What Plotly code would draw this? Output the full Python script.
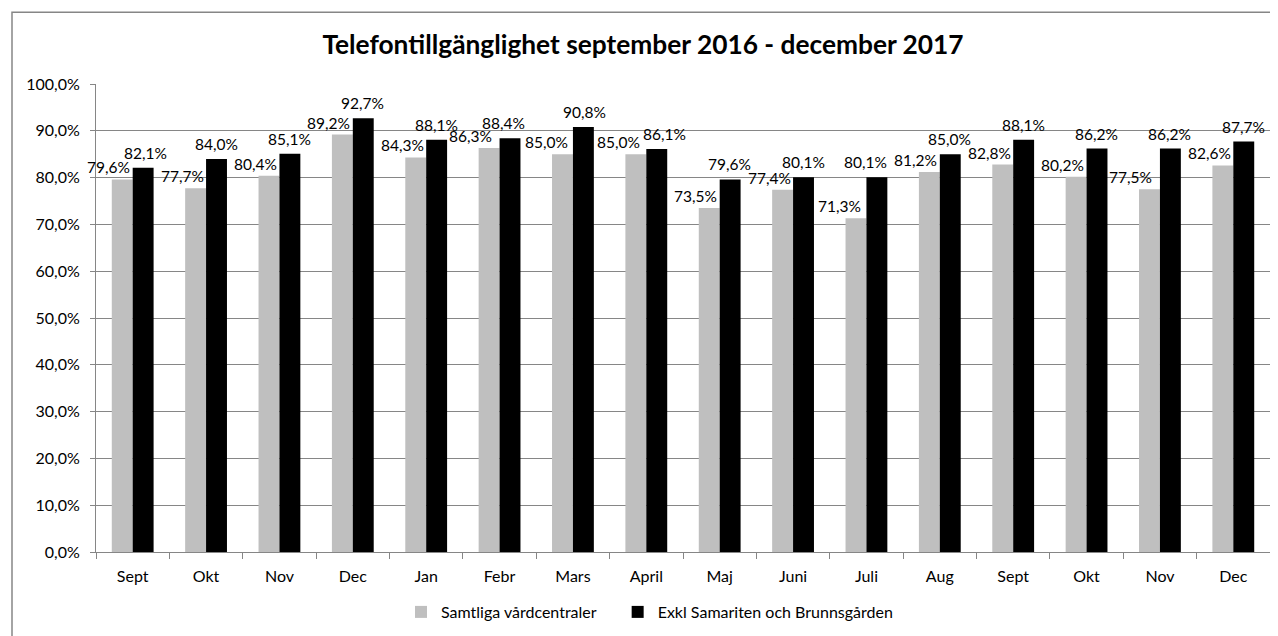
import plotly.graph_objects as go

months = ["Sept", "Okt", "Nov", "Dec", "Jan", "Febr", "Mars", "April",
          "Maj", "Juni", "Juli", "Aug", "Sept", "Okt", "Nov", "Dec"]
samtliga = [79.6, 77.7, 80.4, 89.2, 84.3, 86.3, 85.0, 85.0,
            73.5, 77.4, 71.3, 81.2, 82.8, 80.2, 77.5, 82.6]
exkl = [82.1, 84.0, 85.1, 92.7, 88.1, 88.4, 90.8, 86.1,
        79.6, 80.1, 80.1, 85.0, 88.1, 86.2, 86.2, 87.7]
y_ticks = [0, 10, 20, 30, 40, 50, 60, 70, 80, 90, 100]

title = "Telefontillgänglighet september 2016 - december 2017"
name1 = "Samtliga vårdcentraler"
name2 = "Exkl Samariten och Brunnsgården"

FONT = "Lato, 'Open Sans', sans-serif"
x = list(range(len(months)))


def fmt(v):
    return f"{v:.1f}".replace(".", ",") + "%"


lblfont = dict(size=15.5, color="#000000", family=FONT)

# label nudges (pixels) where the original's labels were hand-placed
gray_nudge = {5: -5, 6: -2, 7: -4, 10: -3, 14: -5}
black_nudge = {0: 3, 5: -6, 6: 2, 7: 8, 10: -11}

fig = go.Figure()
fig.add_trace(go.Bar(
    x=x, y=samtliga, name=name1 + "\u00a0\u00a0\u00a0\u00a0",
    marker=dict(color="#bfbfbf", line=dict(width=0)), hoverinfo="skip"))
fig.add_trace(go.Bar(
    x=x, y=exkl, name=name2,
    marker=dict(color="#000000", line=dict(width=0)), hoverinfo="skip"))

for i, v in zip(x, samtliga):
    fig.add_annotation(x=i, y=v, xref="x", yref="y", text=fmt(v), showarrow=False,
                       xanchor="center", yanchor="bottom",
                       xshift=-24 + gray_nudge.get(i, 0), yshift=1, font=lblfont)
for i, v in zip(x, exkl):
    fig.add_annotation(x=i, y=v, xref="x", yref="y", text=fmt(v), showarrow=False,
                       xanchor="center", yanchor="bottom",
                       xshift=10 + black_nudge.get(i, 0), yshift=4, font=lblfont)

# page body has an 8px margin; coordinates below are in figure pixels
W, H = 1270, 628
L, R, T, B = 88, 8, 76, 83
pw = W - L - R
ph = H - T - B

fig.update_layout(
    width=W, height=H,
    margin=dict(l=L, r=R, t=T, b=B),
    paper_bgcolor="white", plot_bgcolor="white",
    barmode="group", bargap=0.43, bargroupgap=0.0,
    font=dict(family=FONT, size=16, color="#000000"),
    title=dict(text="<b>" + title + "</b>", x=0.5, xanchor="center",
               y=1 - 37 / H, yanchor="middle",
               font=dict(size=26.3, family=FONT, color="#000000")),
    xaxis=dict(
        tickmode="array", tickvals=x, ticktext=months,
        range=[-0.5, len(months) - 0.5],
        showgrid=False, ticks="", showline=True, linecolor="#868686", linewidth=1,
        tickfont=dict(size=16, color="#000000", family=FONT),
        ticklabelstandoff=10,
        minor=dict(tickmode="linear", tick0=-0.5, dtick=1, ticks="outside",
                   ticklen=6, tickcolor="#868686", tickwidth=1, showgrid=False),
        zeroline=False, fixedrange=True,
    ),
    yaxis=dict(
        range=[0, 100], tickvals=y_ticks,
        ticktext=[fmt(v) for v in y_ticks],
        showgrid=True, gridcolor="#868686", gridwidth=1,
        showline=True, linecolor="#868686", linewidth=1,
        ticks="outside", ticklen=5, tickcolor="#868686",
        ticklabelstandoff=7,
        tickfont=dict(size=16, color="#000000", family=FONT),
        zeroline=False, fixedrange=True,
    ),
    legend=dict(orientation="h", x=(393 - L) / pw, xanchor="left",
                y=-(604 - 545) / ph, yanchor="middle",
                font=dict(size=16, family=FONT, color="#000000"),
                itemwidth=30, traceorder="normal"),
    showlegend=True,
)

fig.add_shape(type="rect", xref="paper", yref="paper",
              x0=(4 - L) / pw, x1=(W + 5 - L) / pw,
              y0=-(H + 5 - (H - B)) / ph, y1=1 + (T - 4) / ph,
              line=dict(color="#868686", width=1.5), fillcolor="rgba(0,0,0,0)",
              layer="below")

fig.write_html("out.html")
